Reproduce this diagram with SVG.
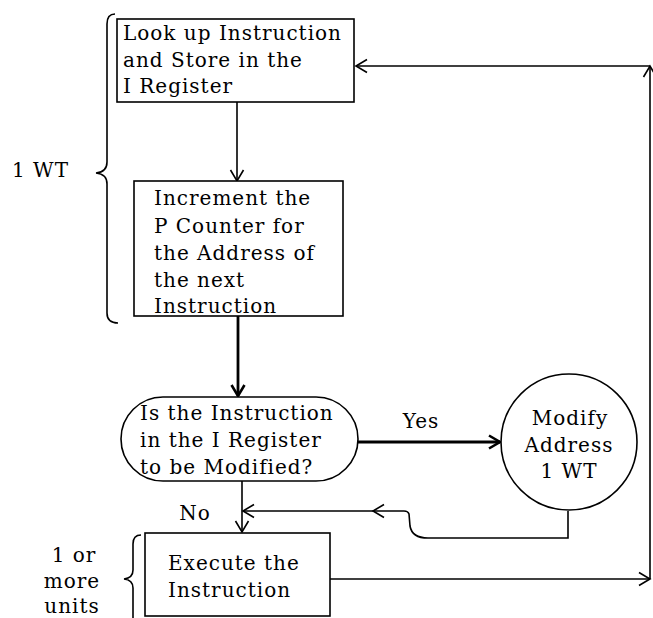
<svg xmlns="http://www.w3.org/2000/svg" width="653" height="618" viewBox="0 0 653 618">
<style>
  .box { fill: #fff; stroke: #000; stroke-width: 1.6; }
  .t { font-family: "DejaVu Serif", "Liberation Serif", serif; font-size: 20px; letter-spacing: 1px; fill: #000; }
  .c { text-anchor: middle; }
  .ln { fill: none; stroke: #000; stroke-width: 1.6; }
  .thick { fill: none; stroke: #000; stroke-width: 2.8; }
  .brace { fill: none; stroke: #000; stroke-width: 1.6; }
</style>
<defs>
  <marker id="ah" markerUnits="userSpaceOnUse" markerWidth="16" markerHeight="16" viewBox="-13 -8 16 16" refX="0" refY="0" orient="auto">
    <path d="M -11 -6.5 L 0 0 L -11 6.5" fill="none" stroke="#000" stroke-width="1.6"/>
  </marker>
  <marker id="ahk" markerUnits="userSpaceOnUse" markerWidth="16" markerHeight="16" viewBox="-13 -8 16 16" refX="0" refY="0" orient="auto">
    <path d="M -11 -6.5 L 0 0 L -11 6.5" fill="none" stroke="#000" stroke-width="2.6"/>
  </marker>
</defs>
<rect width="653" height="618" fill="#fff"/>

<g id="connectors">
  <path class="ln" d="M 237 102 L 237 181" marker-end="url(#ah)"/>
  <path class="thick" d="M 238 316 L 238 396" marker-end="url(#ahk)"/>
  <path class="thick" d="M 358 442 L 500 442" marker-end="url(#ahk)"/>
  <path class="ln" d="M 242 481 L 242 532" marker-end="url(#ah)"/>
  <path class="ln" d="M 568 511 L 568 538 L 428 538 Q 412 538 410 526 L 409 514 Q 408 511 404 511 L 243 511" marker-end="url(#ah)"/>
  <path class="ln" d="M 384 504.5 L 373 511 L 384 517.5"/>
  <path class="ln" d="M 330 579 L 650 579" marker-end="url(#ah)"/>
  <path class="ln" d="M 650 579 L 650 66" marker-end="url(#ah)"/>
  <path class="ln" d="M 650 66 L 356 66" marker-end="url(#ah)"/>
</g>

<g id="node-lookup">
  <rect class="box" x="117" y="19" width="237" height="83"/>
  <text class="t" x="123" y="40">Look up Instruction</text>
  <text class="t" x="123" y="67">and Store in the</text>
  <text class="t" x="123" y="93">I Register</text>
</g>

<g id="node-increment">
  <rect class="box" x="134" y="181" width="209" height="135"/>
  <text class="t" x="154" y="205">Increment the</text>
  <text class="t" x="154" y="233">P Counter for</text>
  <text class="t" x="154" y="260">the Address of</text>
  <text class="t" x="154" y="287">the next</text>
  <text class="t" x="154" y="313">Instruction</text>
</g>

<g id="node-decision">
  <rect class="box" x="121" y="397" width="237" height="84" rx="42" ry="42"/>
  <text class="t" x="140" y="420">Is the Instruction</text>
  <text class="t" x="140" y="447">in the I Register</text>
  <text class="t" x="140" y="474">to be Modified?</text>
</g>

<g id="node-modify">
  <circle class="box" cx="569" cy="442" r="68"/>
  <text class="t c" x="570" y="425">Modify</text>
  <text class="t c" x="569" y="452">Address</text>
  <text class="t c" x="569" y="478">1 WT</text>
</g>

<g id="node-execute">
  <rect class="box" x="145" y="533" width="185" height="83"/>
  <text class="t" x="168" y="570">Execute the</text>
  <text class="t" x="168" y="597">Instruction</text>
</g>

<g id="labels">
  <text class="t c" x="421" y="428">Yes</text>
  <text class="t c" x="195" y="520">No</text>
  <text class="t" x="12" y="177">1 WT</text>
  <text class="t c" x="74" y="562">1 or</text>
  <text class="t c" x="72" y="588">more</text>
  <text class="t c" x="72" y="613">units</text>
  <path class="brace" d="M 115 14 Q 107 14 107 24 L 107 162 Q 107 172 96 173 Q 107 174 107 184 L 107 313 Q 107 323 118 323"/>
  <path class="brace" d="M 141 535 Q 133 535 133 544 L 133 570 Q 133 578 124 579 Q 133 580 133 588 L 133 618"/>
</g>
</svg>
